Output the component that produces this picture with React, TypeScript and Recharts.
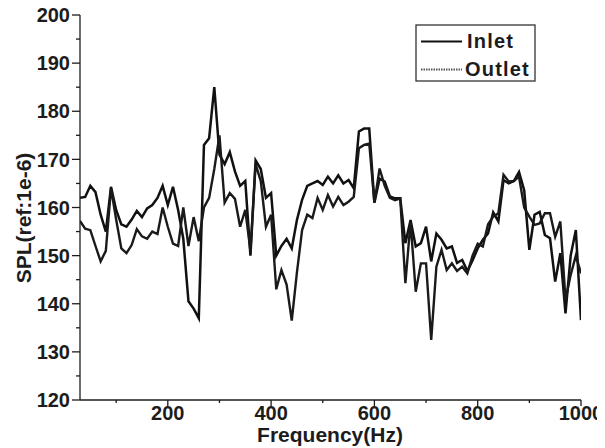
import React from 'react';
import { LineChart, Line, XAxis, YAxis, Label } from 'recharts';

const frequency = [
  30, 40, 50, 60, 70, 80, 90, 100, 110, 120, 130, 140, 150, 160, 170, 180, 190, 200,
  210, 220, 230, 240, 250, 260, 270, 280, 290, 300, 310, 320, 330, 340, 350, 360, 370,
  380, 390, 400, 410, 420, 430, 440, 450, 460, 470, 480, 490, 500, 510, 520, 530, 540,
  550, 560, 570, 580, 590, 600, 610, 620, 630, 640, 650, 660, 670, 680, 690, 700, 710,
  720, 730, 740, 750, 760, 770, 780, 790, 800, 810, 820, 830, 840, 850, 860, 870, 880,
  890, 900, 910, 920, 930, 940, 950, 960, 970, 980, 990, 1000,
];

const inlet = [
  162.0, 162.2, 164.5, 163.2, 158.5, 155.0, 164.3, 159.5, 156.5, 156.0, 157.5, 159.3,
  158.0, 159.8, 160.5, 162.0, 164.5, 160.5, 164.3, 159.5, 153.5, 140.5, 139.0, 137.0,
  173.0, 174.4, 185.0, 171.0, 169.0, 171.5, 167.5, 164.5, 165.5, 150.0, 169.8, 168.0,
  162.0, 163.0, 150.0, 152.0, 153.5, 151.5, 157.4, 161.6, 164.5, 165.0, 165.5, 164.7,
  166.4, 165.0, 166.7, 165.0, 165.7, 164.0, 175.8, 176.4, 176.4, 161.0, 166.0, 165.4,
  162.3, 161.9, 161.9, 152.6, 157.4, 151.9, 152.6, 156.0, 148.8, 154.6, 153.3, 151.5,
  151.9, 148.5, 149.1, 146.8, 149.0, 151.5, 153.3, 154.6, 159.0, 157.1, 165.7, 165.0,
  165.5, 167.4, 163.6, 151.2, 158.5, 159.1, 154.3, 153.6, 144.6, 150.5, 138.0, 150.0,
  155.3, 136.6,
];

const outlet = [
  157.2, 155.6, 155.3, 152.0, 148.8, 151.0, 164.0, 157.5, 151.5, 150.5, 152.2, 155.5,
  154.0, 153.5, 155.0, 154.5, 160.0, 156.0, 152.5, 152.0, 160.0, 152.0, 158.0, 153.0,
  160.0, 162.0, 168.0, 175.0, 161.0, 163.0, 161.8, 156.0, 159.5, 151.0, 169.0, 165.5,
  156.0, 158.5, 143.0, 147.0, 144.0, 136.5, 146.5, 155.3, 158.5, 157.8, 162.0, 159.5,
  162.6, 160.2, 162.2, 160.5, 161.2, 162.2, 172.3, 173.0, 173.3, 161.0, 168.1, 164.5,
  162.0, 161.5, 161.9, 144.3, 157.0, 142.5, 148.4, 148.4, 132.5, 147.7, 151.2, 147.0,
  148.4, 146.8, 147.7, 146.3, 150.0, 152.5, 151.9, 156.5, 158.1, 158.8, 166.8, 165.4,
  165.5, 166.4, 160.0, 158.1, 156.4, 156.7, 158.8, 158.8, 153.9, 157.1, 140.8, 146.0,
  150.0, 146.3,
];

const xTicks = [100, 200, 300, 400, 500, 600, 700, 800, 900, 1000];
const xMajor = [200, 400, 600, 800, 1000];
const yTicks = [120, 125, 130, 135, 140, 145, 150, 155, 160, 165, 170, 175, 180, 185, 190, 195, 200];

const data = frequency.map((f, i) => ({ f, inlet: inlet[i], outlet: outlet[i] }));

const FONT = '"Liberation Sans", Arial, Helvetica, sans-serif';
const INK = '#1c1c1c';

const YTick = (props: any) => {
  const { x, y, payload } = props;
  const v = payload.value;
  const major = v % 10 === 0;
  return (
    <g>
      <line x1={x - (major ? 8 : 4)} x2={x} y1={y} y2={y} stroke={INK} strokeWidth={1.3} />
      {major && (
        <text x={x - 10} y={y} dy="0.36em" textAnchor="end" fontSize={20} fontWeight="bold" fill={INK} fontFamily={FONT}>
          {v}
        </text>
      )}
    </g>
  );
};

const XTick = (props: any) => {
  const { x, y, payload } = props;
  const v = payload.value;
  const major = xMajor.includes(v);
  return (
    <g>
      <line x1={x} x2={x} y1={y} y2={y + (major ? 6 : 3)} stroke={INK} strokeWidth={1.3} />
      {major && (
        <text x={x} y={y + 20} textAnchor="middle" fontSize={20} fontWeight="bold" fill={INK} fontFamily={FONT}>
          {v}
        </text>
      )}
    </g>
  );
};

export default function App() {
  return (
    <div style={{ position: 'relative', width: 605, height: 448, margin: '-8px 0 0 -8px', background: '#fff' }}>
      <LineChart width={605} height={448} data={data} margin={{ top: 15, right: 24, bottom: 0, left: 0 }}>
        <XAxis
          dataKey="f"
          type="number"
          domain={[30, 1000]}
          ticks={xTicks}
          interval={0}
          tickSize={0}
          tickMargin={0}
          tickLine={false}
          tick={<XTick />}
          height={48}
          axisLine={{ stroke: INK, strokeWidth: 1.3 }}
          allowDataOverflow
        >
          <Label
            content={() => (
              <text x={330} y={442} textAnchor="middle" fontSize={21} fontWeight="bold" fill={INK} fontFamily={FONT}>
                Frequency(Hz)
              </text>
            )}
          />
        </XAxis>
        <YAxis
          type="number"
          domain={[120, 200]}
          ticks={yTicks}
          interval={0}
          tickSize={0}
          tickMargin={0}
          tickLine={false}
          tick={<YTick />}
          width={80}
          axisLine={{ stroke: INK, strokeWidth: 1.3 }}
          allowDataOverflow
        >
          <Label
            content={() => (
              <text
                x={23}
                y={218}
                transform="rotate(-90 23 218)"
                textAnchor="middle"
                dominantBaseline="central"
                fontSize={21}
                fontWeight="bold"
                fill={INK}
                fontFamily={FONT}
              >
                SPL(ref:1e-6)
              </text>
            )}
          />
        </YAxis>
        <Line type="linear" dataKey="inlet" stroke="#111" strokeWidth={2.5} dot={false} isAnimationActive={false} />
        <Line type="linear" dataKey="outlet" stroke="#1a1a1a" strokeWidth={2.4} dot={false} isAnimationActive={false} />
      </LineChart>
      <svg
        width={605}
        height={448}
        style={{ position: 'absolute', left: 0, top: 0, pointerEvents: 'none' }}
      >
        <rect x={416} y={25} width={119} height={56} fill="#fff" stroke="#333" strokeWidth={1.3} />
        <line x1={421} x2={462} y1={41.5} y2={41.5} stroke="#111" strokeWidth={2} />
        <text x={467} y={47.5} fontSize={20} fontWeight="bold" letterSpacing={1.2} fill={INK} fontFamily={FONT}>
          Inlet
        </text>
        <line x1={421} x2={462} y1={69.5} y2={69.5} stroke="#555" strokeWidth={2} strokeDasharray="1.5 1" />
        <text x={465} y={75.7} fontSize={20} fontWeight="bold" letterSpacing={1.2} fill={INK} fontFamily={FONT}>
          Outlet
        </text>
      </svg>
    </div>
  );
}
